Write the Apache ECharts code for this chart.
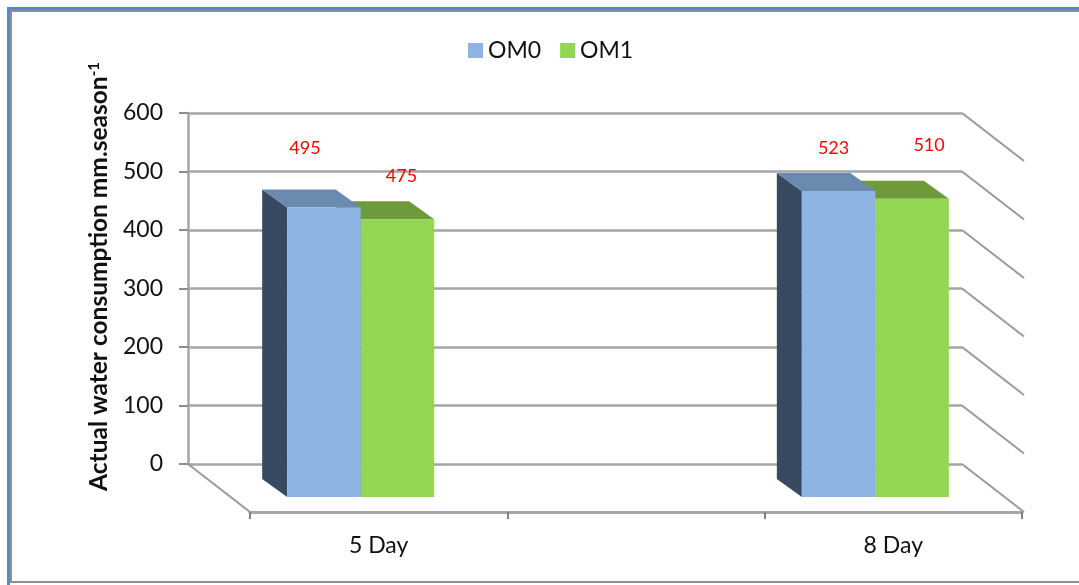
<!DOCTYPE html>
<html>
<head>
<meta charset="utf-8">
<style>html,body{margin:0;padding:0;background:#fff}#chart{width:1079px;height:585px}</style>
<script src="https://cdn.jsdelivr.net/npm/echarts@6/dist/echarts.min.js"></script>
</head>
<body>
<div id="chart"></div>
<script>
// Water consumption by irrigation interval and organic matter level
const categories = ['5 Day', '', '8 Day'];
const om0Values = [495, null, 523];
const om1Values = [475, null, 510];
const valueTicks = [0, 100, 200, 300, 400, 500, 600];
const seriesNames = ['OM0', 'OM1'];

const FONT = 'Lato';
const GRID_LINE = '#a6a6a6';

// Pseudo-3D geometry: floor depth and bar depth in pixels
const FLOOR_DEPTH = [62, 48];
const BAR_DEPTH = [25, 18];
const BAR_RATIO = 73.5 / (772 / 3);

// Hand-placed value labels: pixel offset from the top centre of each bar's front face
const LABEL_SHIFT = {
  OM0: { 0: [-19, -59], 2: [-5, -43] },
  OM1: { 0: [4, -43], 2: [17, -53] }
};

const PALETTE = {
  OM0: { front: '#8db4e3', top: '#6b8ab0', side: '#384a60' },
  OM1: { front: '#93d652', top: '#6f9a3c', side: '#5d8030' }
};

function toPoints(values) {
  return values.map((v, i) => [i, v]).filter(d => d[1] !== null);
}

function barRenderer(name, side) {
  const colors = PALETTE[name];
  return function (params, api) {
    const i = api.value(0);
    const v = api.value(1);
    const band = api.size([1, 0])[0];
    const w = band * BAR_RATIO;
    const cx = api.coord([i, 0])[0];
    const base = api.coord([i, 0])[1];
    const top = api.coord([i, v])[1];
    const x0 = side < 0 ? cx - w : cx;
    const x1 = x0 + w;
    const dx = BAR_DEPTH[0], dy = BAR_DEPTH[1];
    const shift = LABEL_SHIFT[name][i];
    return {
      type: 'group',
      children: [
        { type: 'polygon', shape: { points: [[x0, top], [x0 - dx, top - dy], [x0 - dx, base - dy], [x0, base]] }, style: { fill: colors.side } },
        { type: 'polygon', shape: { points: [[x0, top], [x0 - dx, top - dy], [x1 - dx, top - dy], [x1, top]] }, style: { fill: colors.top } },
        { type: 'rect', shape: { x: x0, y: top, width: w, height: base - top }, style: { fill: colors.front } },
        { type: 'text', style: { text: String(v), x: (x0 + x1) / 2 + shift[0], y: top + shift[1], fill: '#ff0000', font: '18px ' + FONT, align: 'center', verticalAlign: 'middle' } }
      ]
    };
  };
}

// Receding gridlines on the right wall, plus the floor's left edge
function wallRenderer(params, api) {
  const y = api.coord([0, api.value(1)])[1];
  const right = params.coordSys.x + params.coordSys.width;
  const style = { stroke: '#9a9a9a', lineWidth: 2, fill: 'none' };
  const children = [
    { type: 'line', shape: { x1: right, y1: y, x2: right + FLOOR_DEPTH[0], y2: y + FLOOR_DEPTH[1] }, style }
  ];
  if (api.value(1) === 0) {
    const left = params.coordSys.x;
    children.push({ type: 'line', shape: { x1: left, y1: y, x2: left + FLOOR_DEPTH[0], y2: y + FLOOR_DEPTH[1] }, style });
  }
  return { type: 'group', children };
}

const chart = echarts.init(document.getElementById('chart'), null, { renderer: 'canvas' });
chart.setOption({
  animation: false,
  backgroundColor: '#fff',
  textStyle: { fontFamily: FONT },
  legend: {
    data: seriesNames,
    left: 463,
    top: 34,
    icon: 'rect',
    itemWidth: 15,
    itemHeight: 15,
    itemGap: 19,
    selectedMode: false,
    textStyle: { fontFamily: FONT, fontSize: 23, color: '#111' }
  },
  grid: [
    { left: 188, top: 113, width: 774, height: 351 },   // back wall
    { left: 250, top: 400, width: 772, height: 112 },   // front edge of the floor
    { left: 232, top: 146, width: 772, height: 351 }    // plane of the bars' front faces
  ],
  xAxis: [
    { gridIndex: 0, type: 'category', data: categories, show: false },
    {
      gridIndex: 1, type: 'category', data: categories,
      axisLine: { lineStyle: { color: GRID_LINE, width: 3 } },
      axisTick: { show: true, length: 7, alignWithLabel: false, lineStyle: { color: '#808080', width: 2 } },
      axisLabel: { fontFamily: FONT, fontSize: 23, color: '#111', margin: 22, interval: 0 }
    },
    { gridIndex: 2, type: 'category', data: categories, show: false }
  ],
  yAxis: [
    {
      gridIndex: 0, type: 'value', min: 0, max: 600, interval: 100,
      axisLine: { show: true, lineStyle: { color: GRID_LINE, width: 2.5 } },
      axisTick: { show: true, length: 9, lineStyle: { color: '#8c8c8c', width: 2 } },
      axisLabel: { fontFamily: FONT, fontSize: 23, color: '#111', margin: 25 },
      splitLine: { show: true, lineStyle: { color: GRID_LINE, width: 2.5 } },
      name: '{t|Actual water consumption mm.season}{s|-1}',
      nameLocation: 'middle',
      nameGap: 76,
      nameRotate: 90,
      nameTextStyle: {
        padding: [0, 0, 0, 24],
        rich: {
          t: { fontFamily: FONT, fontWeight: 'bold', fontSize: 24.5, color: '#111' },
          s: { fontFamily: FONT, fontWeight: 'bold', fontSize: 15, color: '#111', verticalAlign: 'top', padding: [0, 0, 10, 0] }
        }
      }
    },
    { gridIndex: 1, type: 'value', min: 0, max: 600, show: false },
    { gridIndex: 2, type: 'value', min: 0, max: 600, show: false }
  ],
  series: [
    {
      type: 'custom', silent: true, xAxisIndex: 0, yAxisIndex: 0, z: 1,
      data: valueTicks.map(v => [0, v]),
      encode: { x: 0, y: 1 },
      renderItem: wallRenderer
    },
    {
      name: 'OM0', type: 'custom', silent: true, xAxisIndex: 2, yAxisIndex: 2, z: 4,
      itemStyle: { color: PALETTE.OM0.front },
      data: toPoints(om0Values),
      encode: { x: 0, y: 1 },
      renderItem: barRenderer('OM0', -1)
    },
    {
      name: 'OM1', type: 'custom', silent: true, xAxisIndex: 2, yAxisIndex: 2, z: 3,
      itemStyle: { color: PALETTE.OM1.front },
      data: toPoints(om1Values),
      encode: { x: 0, y: 1 },
      renderItem: barRenderer('OM1', 1)
    }
  ],
  graphic: [
    // Outer frame: blue and grey rules along the top and left, grey along the bottom
    { type: 'rect', silent: true, shape: { x: 7, y: 7, width: 1072, height: 3 }, style: { fill: '#5588cc' } },
    { type: 'rect', silent: true, shape: { x: 10, y: 10, width: 1069, height: 2 }, style: { fill: '#909090' } },
    { type: 'rect', silent: true, shape: { x: 7, y: 7, width: 3, height: 578 }, style: { fill: '#5588cc' } },
    { type: 'rect', silent: true, shape: { x: 10, y: 10, width: 2, height: 572 }, style: { fill: '#909090' } },
    { type: 'rect', silent: true, shape: { x: 10, y: 581, width: 1069, height: 2 }, style: { fill: '#909090' } }
  ]
});
</script>
</body>
</html>
